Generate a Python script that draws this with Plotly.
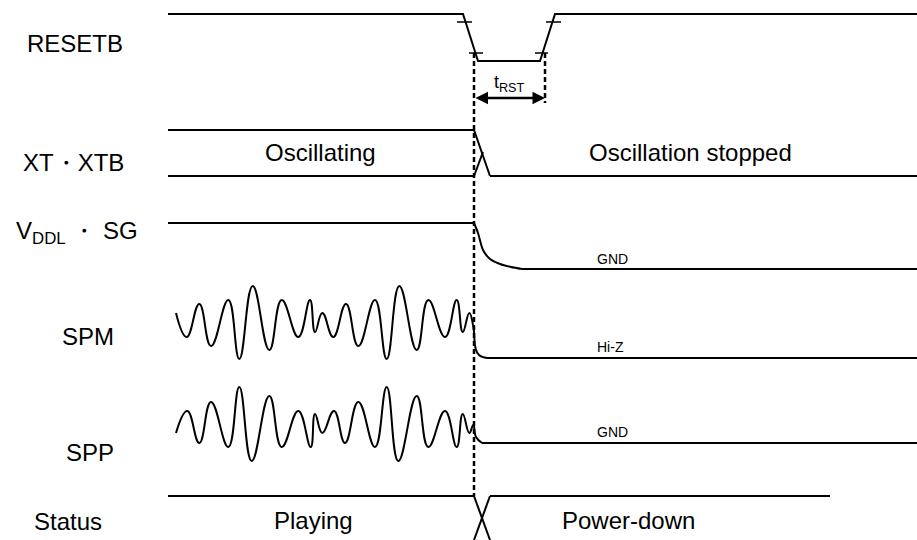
import plotly.graph_objects as go

W, H = 917, 540

# ---- signal data (time axis in px-like units, level axis top-down) ----
resetb_t = [168, 463, 478, 540, 555, 917]
resetb_v = [14, 14, 61, 61, 14, 14]

xt_hi_t = [168, 474, 490]
xt_hi_v = [130, 130, 176]
xt_lo_t = [168, 474, 483]
xt_lo_v = [176, 176, 152]
xt_after_t = [490, 917]
xt_after_v = [176, 176]

vddl_t = [168, 474]
vddl_v = [223, 223]
vddl_decay_t = [474, 478, 483, 490, 500, 511, 522]
vddl_decay_v = [223, 233, 250, 259, 264, 267, 269]
vddl_gnd_t = [522, 917]
vddl_gnd_v = [269, 269]

spm_t = [176, 186.7, 199.3, 211, 228.3, 239.3, 252.7, 269.3, 281.7, 298.3, 310, 315,
         322.3, 333.3, 346, 358.3, 375, 386.7, 399.3, 416.7, 428.3, 445, 456.7, 462.7,
         469.3, 473.5, 475.5, 479, 487]
spm_v = [313, 337, 304, 346, 300, 359, 286, 350, 300, 337, 300, 332,
         313, 337, 304, 346, 300, 359, 286, 350, 300, 337, 300, 332,
         313, 328, 348, 355, 358]
spm_hiz_t = [487, 917]
spm_hiz_v = [358, 358]

spp_t = [176, 187.3, 199.3, 211, 228.3, 239.3, 251.7, 269.3, 281.7, 298.3, 310.7, 315,
         322.3, 334, 345, 358.3, 375, 386.7, 398.3, 416.7, 428.3, 445, 456.7, 462.7,
         469.3, 473.3, 476, 482]
spp_v = [433, 411, 443, 402, 447, 387, 461, 396, 447, 411, 447, 414,
         433, 411, 443, 402, 447, 387, 461, 396, 447, 411, 447, 414,
         433, 425, 437, 443]
spp_gnd_t = [482, 917]
spp_gnd_v = [443, 443]

status_a_t = [168, 474]
status_a_v = [496, 496]
status_b_t = [490, 830]
status_b_v = [496, 496]
status_x1_t = [474, 490]
status_x1_v = [496, 540]
status_x2_t = [490, 474]
status_x2_v = [496, 540]

dash_main_t = [474, 474]
dash_main_v = [53, 496]
dash_rst_t = [545, 545]
dash_rst_v = [53, 103]

tick_t = [[457, 472], [469, 483], [535, 548], [546, 561]]
tick_v = [[22, 22], [53, 53], [53, 53], [22, 22]]

labels = ["RESETB", "XT・XTB", "V<sub>DDL</sub> ・ SG", "SPM", "SPP", "Status"]
label_x = [75, 73, 77, 88, 90, 68]
label_y = [43, 162, 232, 336, 452, 521]

inner_text = ["Oscillating", "Oscillation stopped", "Playing", "Power-down"]
inner_x = [320, 690, 313, 628]
inner_y = [152, 152, 520, 520]

small_text = ["GND", "Hi-Z", "GND"]
small_x = [612, 610, 612]
small_y = [259, 347, 432]

fig = go.Figure()
BLK = "#000000"

def line(t, v, width=2, dash=None, shape="linear", smoothing=1.0):
    ln = dict(color=BLK, width=width, shape=shape)
    if shape == "spline":
        ln["smoothing"] = smoothing
    if dash:
        ln["dash"] = dash
    fig.add_trace(go.Scatter(x=t, y=v, mode="lines", line=ln, hoverinfo="skip",
                             showlegend=False))

line(resetb_t, resetb_v)
for tt, vv in zip(tick_t, tick_v):
    line(tt, vv, width=1.5)
line(xt_hi_t, xt_hi_v)
line(xt_lo_t, xt_lo_v)
line(xt_after_t, xt_after_v)
line(vddl_t, vddl_v)
line(vddl_decay_t, vddl_decay_v, shape="spline", smoothing=0.8)
line(vddl_gnd_t, vddl_gnd_v)
line(spm_t, spm_v, shape="spline", smoothing=1.3)
line(spm_hiz_t, spm_hiz_v)
line(spp_t, spp_v, shape="spline", smoothing=1.3)
line(spp_gnd_t, spp_gnd_v)
line(status_a_t, status_a_v)
line(status_b_t, status_b_v)
line(status_x1_t, status_x1_v)
line(status_x2_t, status_x2_v)
line(dash_main_t, dash_main_v, width=2.5, dash="5px,3px")
line(dash_rst_t, dash_rst_v, width=2.5, dash="5px,3px")

FONT = "Liberation Sans, Arial, sans-serif"
for s, x, y in zip(labels, label_x, label_y):
    fig.add_annotation(x=x, y=y, text=s, showarrow=False, xanchor="center", yanchor="middle",
                       font=dict(family=FONT, size=24, color=BLK))
for s, x, y in zip(inner_text, inner_x, inner_y):
    fig.add_annotation(x=x, y=y, text=s, showarrow=False, xanchor="center", yanchor="middle",
                       font=dict(family=FONT, size=24, color=BLK))
for s, x, y in zip(small_text, small_x, small_y):
    fig.add_annotation(x=x, y=y, text=s, showarrow=False, xanchor="center", yanchor="middle",
                       font=dict(family=FONT, size=14, color=BLK))

# tRST label and double arrow
fig.add_annotation(x=509, y=83, text="t<sub>RST</sub>", showarrow=False, xanchor="center",
                   yanchor="middle", font=dict(family=FONT, size=18, color=BLK))
fig.add_annotation(x=545, y=98, ax=474, ay=98, axref="x", ayref="y", xref="x", yref="y",
                   text="", showarrow=True, arrowhead=2, arrowside="end+start",
                   arrowsize=1, arrowwidth=2.5, arrowcolor=BLK)

fig.update_layout(width=W, height=H, margin=dict(l=0, r=0, t=0, b=0),
                  paper_bgcolor="white", plot_bgcolor="white",
                  xaxis=dict(range=[0, W], visible=False, fixedrange=True),
                  yaxis=dict(range=[H, 0], visible=False, fixedrange=True))
fig.write_html("out.html", config={"displayModeBar": False},
               post_script="document.body.style.margin='0';document.body.style.padding='0';"
                           "document.body.style.overflow='hidden';")
